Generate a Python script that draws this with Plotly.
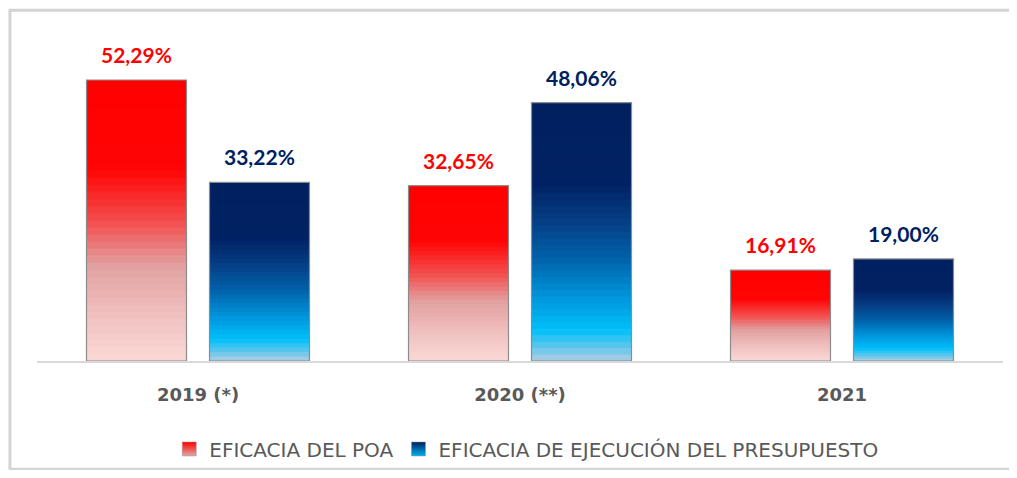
import plotly.graph_objects as go

# ---- data ----
categories = ["2019 (*)", "2020 (**)", "2021"]
poa_values = [52.29, 32.65, 16.91]
pres_values = [33.22, 48.06, 19.00]
poa_labels = ["52,29%", "32,65%", "16,91%"]
pres_labels = ["33,22%", "48,06%", "19,00%"]
series_names = ["EFICACIA DEL POA", "EFICACIA DE EJECUCIÓN DEL PRESUPUESTO"]

# ---- styles ----
RED_STOPS = [(0.0, (255, 0, 0)), (0.32, (255, 5, 5)), (0.52, (242, 85, 85)),
             (0.66, (226, 160, 160)), (0.87, (242, 198, 196)), (1.0, (251, 216, 213))]
BLUE_STOPS = [(0.0, (0, 32, 96)), (0.31, (0, 34, 100)), (0.46, (5, 62, 132)),
              (0.61, (0, 100, 172)), (0.76, (0, 152, 222)), (0.88, (0, 192, 250)),
              (1.0, (175, 205, 225))]
LABEL_COLORS = ["#FF0000", "#002060"]
N = 40

xpos = list(range(len(categories)))


def interp(stops, t):
    for (t0, c0), (t1, c1) in zip(stops[:-1], stops[1:]):
        if t0 <= t <= t1:
            f = (t - t0) / (t1 - t0) if t1 > t0 else 0
            return "rgb(%d,%d,%d)" % tuple(round(a + (b - a) * f) for a, b in zip(c0, c1))
    return "rgb(%d,%d,%d)" % stops[-1][1]


fig = go.Figure()

for s, (vals, stops, grp) in enumerate([(poa_values, RED_STOPS, "poa"),
                                        (pres_values, BLUE_STOPS, "pres")]):
    for k in range(N):
        frac = 1 - k / N
        fig.add_trace(go.Bar(
            x=xpos, y=[v * frac for v in vals],
            offsetgroup=grp, showlegend=False, hoverinfo="skip",
            marker=dict(color=interp(stops, (k + 0.5) / N), line=dict(width=0)),
        ))
    # outline
    fig.add_trace(go.Bar(
        x=xpos, y=vals, offsetgroup=grp, showlegend=False,
        name=series_names[s],
        marker=dict(color="rgba(0,0,0,0)", line=dict(color="#8c8c8c", width=1.2)),
    ))

# legend entries
fig.add_trace(go.Scatter(
    x=[None], y=[None], mode="markers", name=series_names[0],
    marker=dict(symbol="square", size=14, color="#FF0000",
                gradient=dict(type="vertical", color="#E0A8A8"),
                line=dict(color="#999999", width=0.5))))
fig.add_trace(go.Scatter(
    x=[None], y=[None], mode="markers", name=series_names[1],
    marker=dict(symbol="square", size=14, color="#002060",
                gradient=dict(type="vertical", color="#00B0F0"),
                line=dict(color="#999999", width=0.5))))

# value labels
for vals, labels, color, shift in [(poa_values, poa_labels, LABEL_COLORS[0], -61.5),
                                   (pres_values, pres_labels, LABEL_COLORS[1], 61.5)]:
    for xp, v, t in zip(xpos, vals, labels):
        fig.add_annotation(x=xp, y=v, text="<b>%s</b>" % t, showarrow=False,
                           xshift=shift, yanchor="bottom", yshift=11,
                           font=dict(family="Lato", size=21, color=color))

# outer frame (top, left, bottom edges)
fig.add_shape(type="path", xref="paper", yref="paper",
              path="M 1.01,1.035 L -0.028,1.035 L -0.028,-0.319 L 1.01,-0.319",
              line=dict(color="#d4d4d4", width=3))

fig.update_layout(
    width=1001, height=462,
    margin=dict(l=29, r=6, t=14, b=109),
    paper_bgcolor="white", plot_bgcolor="white",
    barmode="group", bargap=0.236, bargroupgap=0.187,
    showlegend=True,
    legend=dict(orientation="h", x=0.507, xanchor="center",
                yref="container", y=0.0455, yanchor="middle",
                itemwidth=30, bgcolor="rgba(0,0,0,0)",
                font=dict(family="DejaVu Sans", size=20, color="#595959"),
                itemclick=False, itemdoubleclick=False),
    xaxis=dict(type="linear", range=[-0.5, len(categories) - 0.5],
               tickmode="array", tickvals=xpos, ticktext=categories,
               showline=True, linecolor="#d9d9d9", linewidth=2, ticks="",
               showgrid=False, zeroline=False, ticklabelstandoff=16,
               tickfont=dict(family="DejaVu Sans", size=18, color="#595959", weight="bold")),
    yaxis=dict(range=[0, 63.08], visible=False, showgrid=False, zeroline=False),
)

fig.write_html("out.html")
